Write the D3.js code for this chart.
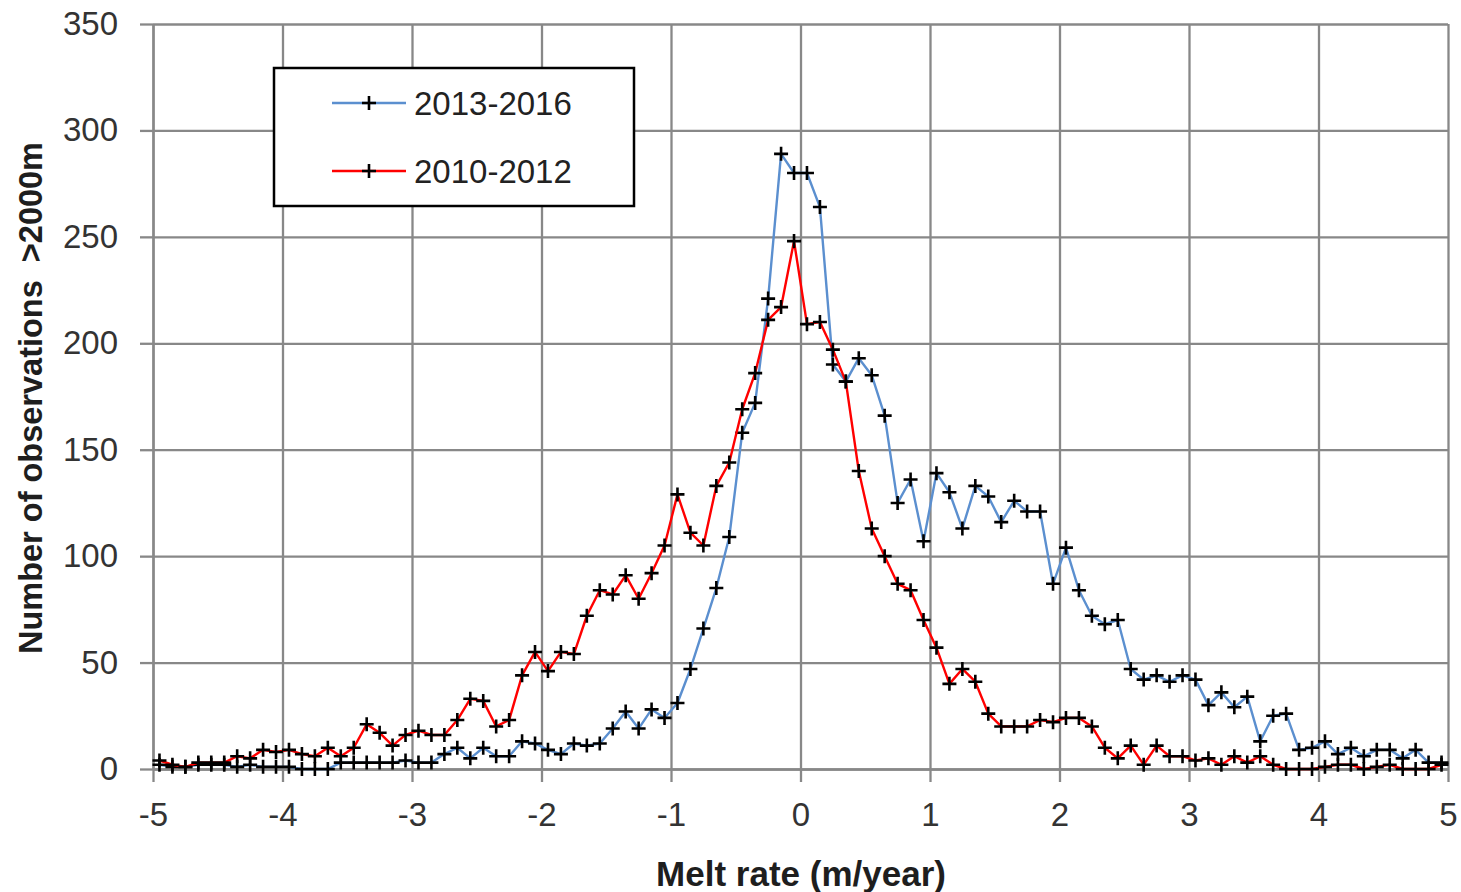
<!DOCTYPE html>
<html>
<head>
<meta charset="utf-8">
<script src="https://cdn.jsdelivr.net/npm/d3@7"></script>
<style>
  html, body { margin: 0; padding: 0; background: #ffffff; }
  svg { display: block; }
</style>
</head>
<body>
<svg id="chart" width="1461" height="892"></svg>
<script>
// Melt-rate bin centres (m/year)
const meltRate = [
  -4.95, -4.85, -4.75, -4.65, -4.55, -4.45, -4.35, -4.25, -4.15, -4.05,
  -3.95, -3.85, -3.75, -3.65, -3.55, -3.45, -3.35, -3.25, -3.15, -3.05,
  -2.95, -2.85, -2.75, -2.65, -2.55, -2.45, -2.35, -2.25, -2.15, -2.05,
  -1.95, -1.85, -1.75, -1.65, -1.55, -1.45, -1.35, -1.25, -1.15, -1.05,
  -0.95, -0.85, -0.75, -0.65, -0.55, -0.45, -0.35, -0.25, -0.15, -0.05,
   0.05,  0.15,  0.25,  0.35,  0.45,  0.55,  0.65,  0.75,  0.85,  0.95,
   1.05,  1.15,  1.25,  1.35,  1.45,  1.55,  1.65,  1.75,  1.85,  1.95,
   2.05,  2.15,  2.25,  2.35,  2.45,  2.55,  2.65,  2.75,  2.85,  2.95,
   3.05,  3.15,  3.25,  3.35,  3.45,  3.55,  3.65,  3.75,  3.85,  3.95,
   4.05,  4.15,  4.25,  4.35,  4.45,  4.55,  4.65,  4.75,  4.85,  4.95
];

// Number of observations above 2000 m, 2013-2016
const obs2013_2016 = [
    2,   1,   1,   2,   2,   2,   1,   2,   1,   1,
    1,   0,   0,   0,   3,   3,   3,   3,   3,   4,
    3,   3,   7,  10,   5,  10,   6,   6,  13,  12,
    9,   7,  12,  11,  12,  19,  27,  19,  28,  24,
   31,  47,  66,  85, 109, 158, 172, 221, 289, 280,
  280, 264, 190, 182, 193, 185, 166, 125, 136, 107,
  139, 130, 113, 133, 128, 116, 126, 121, 121,  87,
  104,  84,  72,  68,  70,  47,  42,  44,  41,  44,
   42,  30,  36,  29,  34,  13,  25,  26,   9,  10,
   13,   7,  10,   6,   9,   9,   5,   9,   3,   3
];

// Number of observations above 2000 m, 2010-2012
const obs2010_2012 = [
    4,   2,   1,   3,   3,   3,   6,   5,   9,   8,
    9,   7,   6,  10,   6,  10,  21,  17,  11,  16,
   18,  16,  16,  23,  33,  32,  20,  23,  44,  55,
   46,  55,  54,  72,  84,  82,  91,  80,  92, 105,
  129, 111, 105, 133, 144, 169, 186, 211, 217, 248,
  209, 210, 197, 182, 140, 113, 100,  87,  84,  70,
   57,  40,  47,  41,  26,  20,  20,  20,  23,  22,
   24,  24,  20,  10,   5,  11,   2,  11,   6,   6,
    4,   5,   2,   6,   3,   6,   2,   0,   0,   0,
    1,   2,   2,   0,   1,   2,   0,   0,   0,   2
];

const xTicks = [-5, -4, -3, -2, -1, 0, 1, 2, 3, 4, 5];
const yTicks = [0, 50, 100, 150, 200, 250, 300, 350];

const seriesNames = ["2013-2016", "2010-2012"];
const seriesColors = ["#5b8fcf", "#ff0000"];
const seriesValues = [obs2013_2016, obs2010_2012];

const xTitle = "Melt rate (m/year)";
const yTitle = "Number of observations  >2000m";

// ---- layout ----
const W = 1461, H = 892;
const plot = { left: 153, right: 1448, top: 24, bottom: 769 };

const svg = d3.select("#chart");

const x = d3.scaleLinear().domain([-5, 5]).range([plot.left, plot.right]);
const y = d3.scaleLinear().domain([0, 350]).range([plot.bottom, plot.top]);

const gridColor = "#888888";
const gridWidth = 2.3;
const tickFont = "'Liberation Sans', Arial, sans-serif";

// gridlines
svg.append("g")
  .attr("transform", `translate(0,${plot.bottom})`)
  .call(d3.axisBottom(x).tickValues(xTicks).tickSize(-(plot.bottom - plot.top)).tickFormat(""))
  .call(g => g.select(".domain").remove())
  .call(g => g.selectAll("line").attr("stroke", gridColor).attr("stroke-width", gridWidth));

svg.append("g")
  .attr("transform", `translate(${plot.left},0)`)
  .call(d3.axisLeft(y).tickValues(yTicks).tickSize(-(plot.right - plot.left)).tickFormat(""))
  .call(g => g.select(".domain").remove())
  .call(g => g.selectAll("line").attr("stroke", gridColor).attr("stroke-width", gridWidth));

// axes with outward tick marks and labels
const xAxis = svg.append("g")
  .attr("transform", `translate(0,${plot.bottom})`)
  .call(d3.axisBottom(x).tickValues(xTicks).tickSize(13).tickSizeOuter(0).tickPadding(21)
    .tickFormat(d => String(d)));
xAxis.select(".domain").attr("stroke", gridColor).attr("stroke-width", gridWidth);
xAxis.selectAll(".tick line").attr("stroke", gridColor).attr("stroke-width", gridWidth);
xAxis.selectAll(".tick text")
  .attr("font-family", tickFont).attr("font-size", 33).attr("fill", "#333");

const yAxis = svg.append("g")
  .attr("transform", `translate(${plot.left},0)`)
  .call(d3.axisLeft(y).tickValues(yTicks).tickSize(13).tickSizeOuter(0).tickPadding(22)
    .tickFormat(d => String(d)));
yAxis.select(".domain").attr("stroke", gridColor).attr("stroke-width", gridWidth);
yAxis.selectAll(".tick line").attr("stroke", gridColor).attr("stroke-width", gridWidth);
yAxis.selectAll(".tick text")
  .attr("font-family", tickFont).attr("font-size", 33).attr("fill", "#333");

// axis titles
svg.append("text")
  .attr("x", 801)
  .attr("y", 886)
  .attr("text-anchor", "middle")
  .attr("font-family", "'Liberation Sans', Arial, sans-serif")
  .attr("font-weight", "bold")
  .attr("font-size", 35)
  .attr("fill", "#1e1e1e")
  .text(xTitle);

svg.append("text")
  .attr("transform", "translate(42,398) rotate(-90)")
  .attr("text-anchor", "middle")
  .attr("font-family", "'Liberation Sans', Arial, sans-serif")
  .attr("font-weight", "bold")
  .attr("font-size", 32.5)
  .attr("fill", "#1e1e1e")
  .style("white-space", "pre")
  .text(yTitle);

// plus-shaped marker
const plusPath = (cx, cy, r) => `M${cx - r},${cy}H${cx + r}M${cx},${cy - r}V${cy + r}`;

// series lines and markers
const line = d3.line()
  .x((d, i) => x(meltRate[i]))
  .y(d => y(d));

seriesValues.forEach((vals, k) => {
  const g = svg.append("g").attr("class", "series");
  g.append("path")
    .datum(vals)
    .attr("fill", "none")
    .attr("stroke", seriesColors[k])
    .attr("stroke-width", 2.4)
    .attr("stroke-linejoin", "round")
    .attr("d", line);
  g.append("path")
    .attr("fill", "none")
    .attr("stroke", "#000")
    .attr("stroke-width", 2.6)
    .attr("d", vals.map((v, i) => plusPath(x(meltRate[i]), y(v), 7)).join(""));
});

// legend
const legend = svg.append("g");
legend.append("rect")
  .attr("x", 274).attr("y", 68).attr("width", 360).attr("height", 138)
  .attr("fill", "#fff").attr("stroke", "#000").attr("stroke-width", 2.5);

seriesNames.forEach((name, k) => {
  const ly = 103 + k * 68;
  legend.append("line")
    .attr("x1", 332).attr("x2", 406).attr("y1", ly).attr("y2", ly)
    .attr("stroke", seriesColors[k]).attr("stroke-width", 2.4);
  legend.append("path")
    .attr("stroke", "#000").attr("stroke-width", 2.6).attr("fill", "none")
    .attr("d", plusPath(369, ly, 7));
  legend.append("text")
    .attr("x", 414).attr("y", ly).attr("dy", "0.36em")
    .attr("font-family", tickFont).attr("font-size", 33).attr("fill", "#222")
    .text(name);
});
</script>
</body>
</html>
